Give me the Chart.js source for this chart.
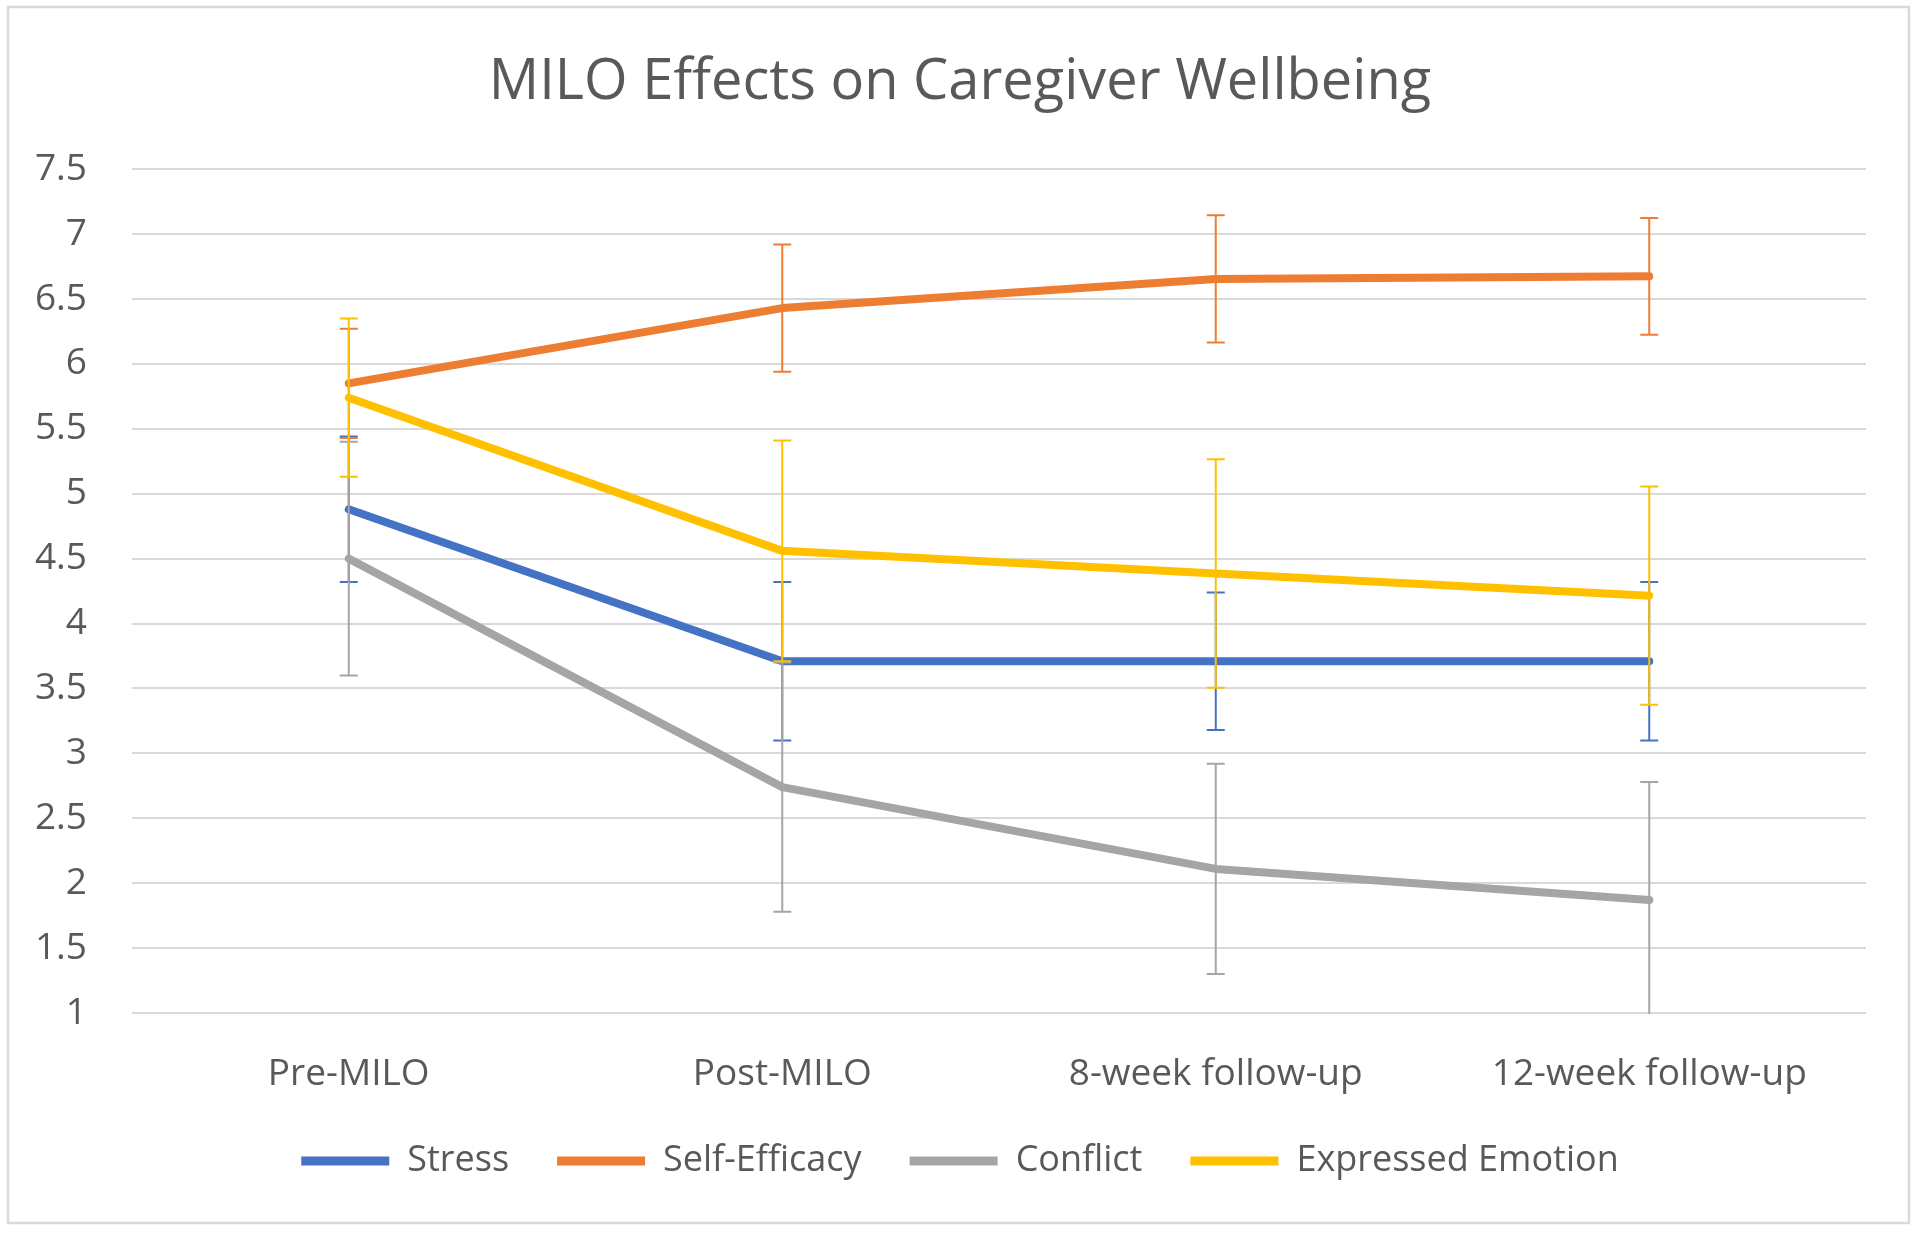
<!DOCTYPE html>
<html>
<head>
<meta charset="utf-8">
<title>MILO Effects on Caregiver Wellbeing</title>
<script src="https://cdn.jsdelivr.net/npm/chart.js@4.4.1/dist/chart.umd.min.js"></script>
<style>
  html, body { margin: 0; padding: 0; background: #ffffff; }
  #chart-milo { display: block; }
</style>
</head>
<body>
<canvas id="chart-milo" width="1920" height="1233"></canvas>
<script>
// Datos
const categorias = ['Pre-MILO', 'Post-MILO', '8-week follow-up', '12-week follow-up'];

const stress = [4.88, 3.71, 3.71, 3.71];
const stressError = [0.56, 0.61, 0.53, 0.61];

const selfEfficacy = [5.85, 6.43, 6.655, 6.675];
const selfEfficacyError = [0.42, 0.49, 0.49, 0.45];

const conflict = [4.50, 2.74, 2.11, 1.87];
const conflictError = [0.90, 0.96, 0.81, 0.91];

const expressedEmotion = [5.74, 4.56, 4.385, 4.215];
const expressedEmotionError = [0.61, 0.85, 0.88, 0.84];

const marcasY = [1, 1.5, 2, 2.5, 3, 3.5, 4, 4.5, 5, 5.5, 6, 6.5, 7, 7.5];
const etiquetasY = ['1', '1.5', '2', '2.5', '3', '3.5', '4', '4.5', '5', '5.5', '6', '6.5', '7', '7.5'];

const fuente = "'Open Sans', 'Noto Sans', sans-serif";
const gris = '#595959';

// Fondo blanco y marco exterior
const marcoPlugin = {
  id: 'marco',
  beforeDraw(chart) {
    const ctx = chart.ctx;
    ctx.save();
    ctx.fillStyle = '#ffffff';
    ctx.fillRect(0, 0, chart.width, chart.height);
    ctx.strokeStyle = '#d9d9d9';
    ctx.lineWidth = 2.5;
    ctx.strokeRect(8, 7, chart.width - 19, chart.height - 17);
    ctx.restore();
  }
};

// Barras de error de cada serie
const barrasErrorPlugin = {
  id: 'barrasError',
  afterDatasetDraw(chart, args) {
    const ds = chart.data.datasets[args.index];
    if (!ds.errores) return;
    const escalaY = chart.scales.y;
    const area = chart.chartArea;
    const ctx = chart.ctx;
    ctx.save();
    ctx.beginPath();
    ctx.rect(area.left, area.top - 2, area.right - area.left, area.bottom - area.top + 3);
    ctx.clip();
    ctx.strokeStyle = ds.borderColor;
    ctx.lineWidth = 2;
    args.meta.data.forEach((punto, i) => {
      const valor = ds.data[i];
      const err = ds.errores[i];
      const yArriba = escalaY.getPixelForValue(valor + err);
      const yAbajo = escalaY.getPixelForValue(valor - err);
      ctx.beginPath();
      ctx.moveTo(punto.x, yArriba);
      ctx.lineTo(punto.x, yAbajo);
      ctx.moveTo(punto.x - 9, yArriba);
      ctx.lineTo(punto.x + 9, yArriba);
      ctx.moveTo(punto.x - 9, yAbajo);
      ctx.lineTo(punto.x + 9, yAbajo);
      ctx.stroke();
    });
    ctx.restore();
  }
};

function crearSerie(nombre, datos, errores, color, orden) {
  return {
    label: nombre,
    data: datos,
    errores: errores,
    borderColor: color,
    backgroundColor: color,
    borderWidth: 8,
    borderCapStyle: 'round',
    borderJoinStyle: 'round',
    pointRadius: 0,
    pointHoverRadius: 0,
    pointBorderWidth: 9,
    tension: 0,
    order: orden
  };
}

const ctx = document.getElementById('chart-milo');

new Chart(ctx, {
  type: 'line',
  data: {
    labels: categorias,
    datasets: [
      crearSerie('Stress', stress, stressError, '#4472c4', 4),
      crearSerie('Self-Efficacy', selfEfficacy, selfEfficacyError, '#ed7d31', 3),
      crearSerie('Conflict', conflict, conflictError, '#a5a5a5', 2),
      crearSerie('Expressed Emotion', expressedEmotion, expressedEmotionError, '#ffc000', 1)
    ]
  },
  options: {
    responsive: false,
    animation: false,
    devicePixelRatio: 1,
    layout: {
      padding: { top: 0, left: 0, right: 0, bottom: 44 }
    },
    plugins: {
      title: {
        display: true,
        text: 'MILO Effects on Caregiver Wellbeing',
        color: gris,
        font: { family: fuente, size: 56, weight: 'normal' },
        padding: { top: 49, bottom: 53 }
      },
      legend: {
        position: 'bottom',
        labels: {
          usePointStyle: true,
          pointStyle: 'line',
          pointStyleWidth: 88,
          color: gris,
          font: { family: fuente, size: 36 },
          padding: 48,
          sort: (a, b) => a.datasetIndex - b.datasetIndex
        }
      },
      tooltip: { enabled: false }
    },
    scales: {
      x: {
        offset: true,
        grid: { display: false, drawTicks: false },
        border: { display: false },
        ticks: {
          color: gris,
          font: { family: fuente, size: 37, lineHeight: 1 },
          padding: 43,
          maxRotation: 0
        },
        afterFit(escala) { escala.height = 82; }
      },
      y: {
        position: 'left',
        min: 1,
        max: 7.5,
        grid: { color: '#d9d9d9', lineWidth: 2, drawTicks: false },
        border: { display: false },
        afterBuildTicks(escala) {
          escala.ticks = marcasY.map(v => ({ value: v }));
        },
        ticks: {
          color: gris,
          font: { family: fuente, size: 37 },
          padding: 45,
          callback: (valor, i) => etiquetasY[i]
        },
        afterFit(escala) { escala.width = 132; }
      },
      // margen derecho del area de trazado
      margen: {
        type: 'linear',
        position: 'right',
        grid: { display: false, drawTicks: false },
        border: { display: false },
        ticks: { display: false },
        afterFit(escala) { escala.width = 54; }
      }
    }
  },
  plugins: [marcoPlugin, barrasErrorPlugin]
});
</script>
</body>
</html>
